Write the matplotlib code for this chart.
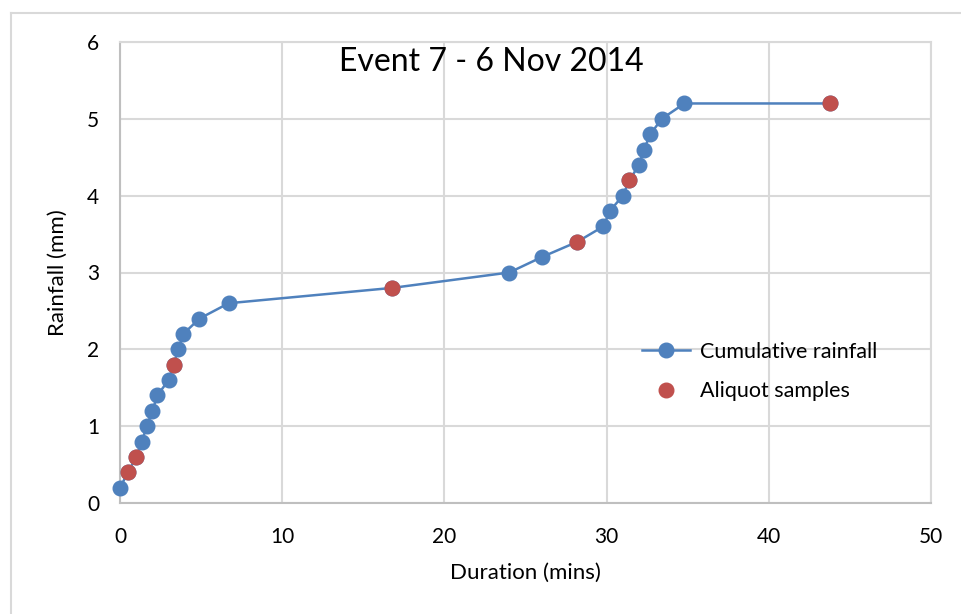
import matplotlib.pyplot as plt
from matplotlib.lines import Line2D

plt.rcParams['font.family'] = ['Lato', 'DejaVu Sans']

# cumulative rainfall series
duration = [0, 0.5, 1.0, 1.35, 1.65, 2.0, 2.3, 3.0, 3.3, 3.6, 3.9, 4.9, 6.7,
            16.8, 24.0, 26.0, 28.2, 29.8, 30.2, 31.0, 31.4, 32.0, 32.3, 32.7,
            33.4, 34.8, 43.8]
rainfall = [0.2, 0.4, 0.6, 0.8, 1.0, 1.2, 1.4, 1.6, 1.8, 2.0, 2.2, 2.4, 2.6,
            2.8, 3.0, 3.2, 3.4, 3.6, 3.8, 4.0, 4.2, 4.4, 4.6, 4.8, 5.0, 5.2,
            5.2]
# aliquot samples
aliq_x = [0.5, 1.0, 3.3, 16.8, 28.2, 31.4, 43.8]
aliq_y = [0.4, 0.6, 1.8, 2.8, 3.4, 4.2, 5.2]

blue = '#4f81bd'
red = '#c0504d'
grid = '#d9d9d9'

fig = plt.figure(figsize=(9.62, 6.14), dpi=100)
ax = fig.add_axes([120 / 962, 1 - 503 / 614, 811 / 962, 461 / 614])

ax.plot(duration, rainfall, color=blue, lw=1.8, marker='o', ms=10.5,
        mec=blue, mfc=blue, label='Cumulative rainfall', zorder=3,
        clip_on=False)
ax.plot(aliq_x, aliq_y, ls='none', marker='o', ms=10.5, color=red,
        label='Aliquot samples', zorder=4, clip_on=False)

ax.set_xlim(0, 50)
ax.set_ylim(0, 6)
ax.set_xticks(range(0, 51, 10))
ax.set_yticks(range(0, 7))
ax.grid(True, color=grid, lw=1.5)
ax.set_axisbelow(True)
for s in ax.spines.values():
    s.set_color(grid)
    s.set_linewidth(1.5)
ax.spines['left'].set_color('#bfbfbf')
ax.spines['bottom'].set_color('#bfbfbf')
ax.tick_params(length=0, labelsize=15, colors='#000000')
ax.tick_params(axis='x', pad=17)
ax.tick_params(axis='y', pad=15)

ax.set_xlabel('Duration (mins)', fontsize=16, labelpad=12)
ax.set_ylabel('Rainfall (mm)', fontsize=16, labelpad=14)
ax.text(0.458, 0.99, 'Event 7 - 6 Nov 2014', transform=ax.transAxes,
        ha='center', va='top', fontsize=23)

ax.legend(loc='center left', bbox_to_anchor=(0.62, 0.285), frameon=False,
          fontsize=15.5, handlelength=2.2, labelspacing=0.9,
          handletextpad=0.5)

# outer chart border
fig.add_artist(Line2D([11 / 962, 11 / 962], [0, 1 - 13 / 614], color=grid, lw=1.5))
fig.add_artist(Line2D([11 / 962, 1], [1 - 13 / 614, 1 - 13 / 614], color=grid, lw=1.5))

fig.savefig('out.png', dpi=100)
